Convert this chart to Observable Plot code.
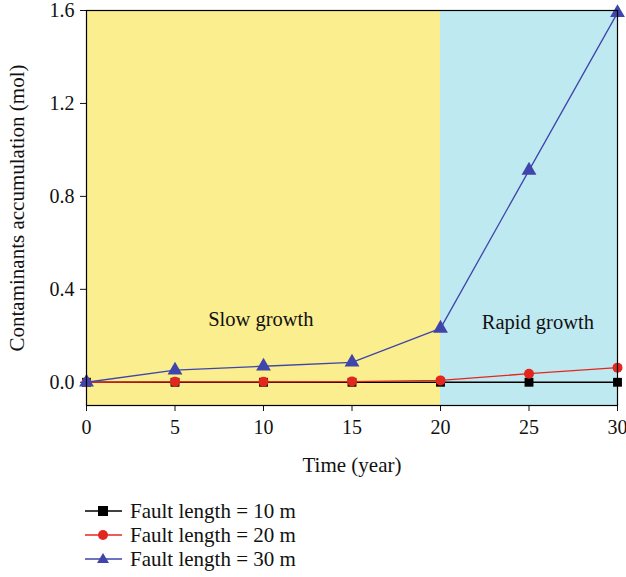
<!DOCTYPE html>
<html>
<head>
<meta charset="utf-8">
<script src="https://cdn.jsdelivr.net/npm/d3@7"></script>
<script src="https://cdn.jsdelivr.net/npm/@observablehq/plot@0.6"></script>
<style>
  body { margin: 0; background: #fff; font-family: "Liberation Serif", serif; }
  #legend { margin-left: 80px; margin-top: 19px; font-size: 21px; color: #111; }
  .row { display: flex; align-items: center; height: 24px; }
  .row svg { margin-right: 6px; }
</style>
</head>
<body>
<div id="chart"></div>
<div id="legend"></div>
<script>
const years = [0, 5, 10, 15, 20, 25, 30];
const fault10 = [0, 0, 0, 0, 0, 0, 0];
const fault20 = [0, 0.002, 0.002, 0.003, 0.008, 0.037, 0.063];
const fault30 = [0, 0.052, 0.069, 0.086, 0.232, 0.912, 1.59];
const seriesNames = ["Fault length = 10 m", "Fault length = 20 m", "Fault length = 30 m"];
const seriesColors = ["#000000", "#E2281E", "#3F45AA"];
const seriesSymbols = ["square", "circle", "triangle"];
const regionStart = [0, 20];
const regionEnd = [20, 30];
const regionLabels = ["Slow growth", "Rapid growth"];
const regionColors = ["#FAEE8E", "#BFE9F1"];
const labelX = [9.85, 25.5];
const labelY = [0.27, 0.258];
const xTicks = [0, 5, 10, 15, 20, 25, 30];
const yTicks = [0, 0.4, 0.8, 1.2, 1.6];
const xLabel = "Time (year)";
const yLabel = "Contaminants accumulation (mol)";

const allSeries = [fault10, fault20, fault30];
const rows = [];
allSeries.forEach((vals, s) => years.forEach((t, i) => rows.push({t, v: vals[i], s})));
const regions = regionStart.map((a, i) => ({a, b: regionEnd[i], label: regionLabels[i], fill: regionColors[i], lx: labelX[i], ly: labelY[i]}));

const marks = [
  Plot.rect(regions, {x1: "a", x2: "b", y1: -0.1, y2: 1.6, fill: "fill"}),
  Plot.text(regions, {x: "lx", y: "ly", text: "label", fontSize: 20.5, fill: "#111"}),
];
allSeries.forEach((vals, s) => {
  const data = rows.filter(r => r.s === s);
  marks.push(Plot.line(data, {x: "t", y: "v", stroke: seriesColors[s], strokeWidth: 1.3}));
  marks.push(Plot.dot(data, {x: "t", y: "v", symbol: seriesSymbols[s], fill: seriesColors[s], stroke: "none", r: s === 2 ? 5.5 : 5}));
});
marks.push(Plot.frame({stroke: "#000", strokeWidth: 1.2}));
marks.push(Plot.text([yLabel], {frameAnchor: "left", text: d => d, rotate: -90, textAnchor: "middle", dx: -69, fontSize: 21, fill: "#111"}));

const chart = Plot.plot({
  width: 626,
  height: 480,
  marginLeft: 86,
  marginRight: 9,
  marginTop: 10,
  marginBottom: 75,
  style: {fontFamily: "Liberation Serif, serif", fontSize: "20px", color: "#111", background: "#fff", overflow: "visible"},
  x: {domain: [0, 30], ticks: xTicks, tickSize: 6, tickPadding: 8, label: xLabel, labelAnchor: "center", labelArrow: "none", labelOffset: 66},
  y: {domain: [-0.1, 1.6], ticks: yTicks, tickSize: 6, tickPadding: 6, tickFormat: d3.format(".1f"), label: null},
  marks
});
chart.querySelectorAll("g[aria-label='x-axis label'] text").forEach(t => t.setAttribute("font-size", "21"));
document.getElementById("chart").appendChild(chart);

const legend = document.getElementById("legend");
seriesNames.forEach((name, s) => {
  const row = document.createElement("div");
  row.className = "row";
  const c = seriesColors[s];
  let sym;
  if (seriesSymbols[s] === "square") sym = `<rect x="18" y="7" width="10" height="10" fill="${c}"/>`;
  else if (seriesSymbols[s] === "circle") sym = `<circle cx="23" cy="12" r="5" fill="${c}"/>`;
  else sym = `<path d="M23,6 L29,16 L17,16 Z" fill="${c}"/>`;
  row.innerHTML = `<svg width="44" height="24"><line x1="5" x2="42" y1="12" y2="12" stroke="${c}" stroke-width="1.3"/>${sym}</svg><span>${name}</span>`;
  legend.appendChild(row);
});
</script>
</body>
</html>
